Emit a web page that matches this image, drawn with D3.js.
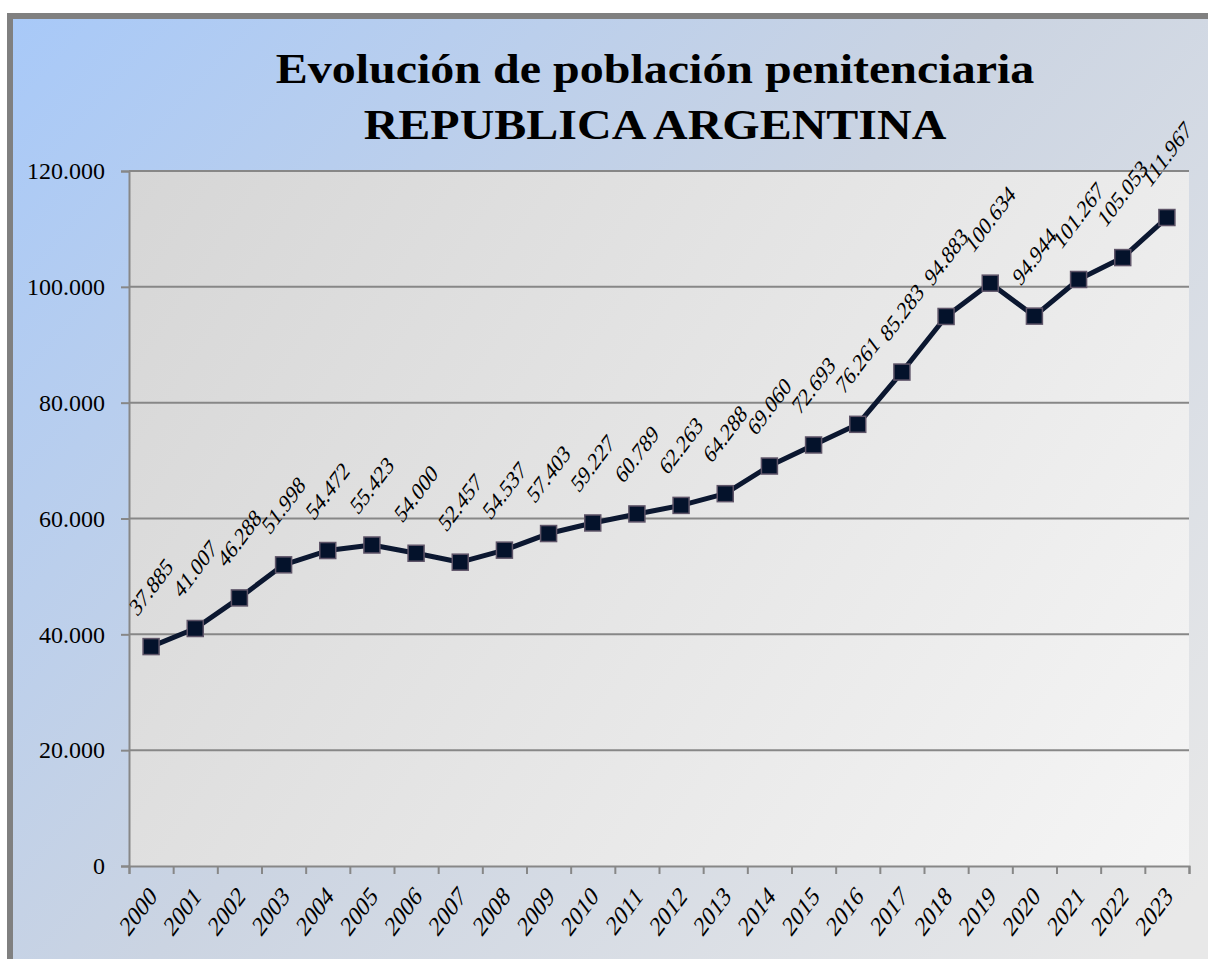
<!DOCTYPE html>
<html>
<head>
<meta charset="utf-8">
<script src="https://cdn.jsdelivr.net/npm/d3@7"></script>
<style>
  html, body { margin: 0; padding: 0; background: #ffffff; }
  svg { display: block; }
  text { font-family: "Liberation Serif", "DejaVu Serif", serif; fill: #000; }
</style>
</head>
<body>
<svg id="chart" width="1208" height="959"></svg>
<script>
// data
var years = ["2000","2001","2002","2003","2004","2005","2006","2007","2008","2009","2010","2011",
             "2012","2013","2014","2015","2016","2017","2018","2019","2020","2021","2022","2023"];
var population = [37885, 41007, 46288, 51998, 54472, 55423, 54000, 52457, 54537, 57403, 59227, 60789,
                  62263, 64288, 69060, 72693, 76261, 85283, 94883, 100634, 94944, 101267, 105053, 111967];
var yTicks = [0, 20000, 40000, 60000, 80000, 100000, 120000];
var titleLines = ["Evolución de población penitenciaria", "REPUBLICA ARGENTINA"];

// layout
var plot = {left: 129, right: 1189, top: 171, bottom: 866};
var stretch = 1.33; // the source picture is stretched vertically; rotated text shows it

var svg = d3.select("#chart");
var defs = svg.append("defs");

// gradients
var bgGrad = defs.append("linearGradient")
  .attr("id", "bgGrad")
  .attr("gradientUnits", "userSpaceOnUse")
  .attr("x1", 13).attr("y1", 19).attr("x2", 1100).attr("y2", 1000);
bgGrad.append("stop").attr("offset", 0).attr("stop-color", "#a8c9f8");
bgGrad.append("stop").attr("offset", 0.5).attr("stop-color", "#cbd4e2");
bgGrad.append("stop").attr("offset", 1).attr("stop-color", "#e8e8e8");

var plotGrad = defs.append("linearGradient")
  .attr("id", "plotGrad")
  .attr("gradientUnits", "userSpaceOnUse")
  .attr("x1", plot.left).attr("y1", plot.top).attr("x2", plot.right).attr("y2", plot.bottom);
plotGrad.append("stop").attr("offset", 0).attr("stop-color", "#d6d6d6");
plotGrad.append("stop").attr("offset", 1).attr("stop-color", "#f5f5f5");

// outer frame (runs off right & bottom edge)
svg.append("rect")
  .attr("x", 10).attr("y", 16)
  .attr("width", 1300).attr("height", 1100)
  .attr("fill", "url(#bgGrad)")
  .attr("stroke", "#808080")
  .attr("stroke-width", 6);

// plot area
svg.append("rect")
  .attr("x", plot.left).attr("y", plot.top)
  .attr("width", plot.right - plot.left).attr("height", plot.bottom - plot.top)
  .attr("fill", "url(#plotGrad)");

// scales
var x = d3.scaleBand()
  .domain(years)
  .range([plot.left, plot.right])
  .padding(0);

var xEdges = d3.scaleLinear()
  .domain([0, years.length])
  .range([plot.left, plot.right]);

var y = d3.scaleLinear()
  .domain([0, 120000])
  .range([plot.bottom, plot.top]);

var locale = d3.formatLocale({decimal: ",", thousands: ".", grouping: [3], currency: ["$", ""]});
var fmt = locale.format(",d");

// gridlines
svg.append("g")
  .attr("class", "grid")
  .selectAll("line")
  .data(yTicks.filter(function(d) { return d > 0; }))
  .enter().append("line")
  .attr("x1", plot.left).attr("x2", plot.right)
  .attr("y1", function(d) { return y(d); })
  .attr("y2", function(d) { return y(d); })
  .attr("stroke", "#878787")
  .attr("stroke-width", 2);

// y axis
var yAxis = d3.axisLeft(y)
  .tickValues(yTicks)
  .tickSize(8)
  .tickPadding(16)
  .tickFormat(fmt);

var gy = svg.append("g")
  .attr("transform", "translate(" + plot.left + ",0)")
  .call(yAxis);
gy.select(".domain").attr("stroke", "#878787").attr("stroke-width", 2);
gy.selectAll(".tick line").attr("stroke", "#878787").attr("stroke-width", 2);
gy.selectAll(".tick text")
  .style("font-family", "'Liberation Serif', serif")
  .style("font-size", "24px")
  .attr("fill", "#000");

// x axis: tick marks at category edges
var xTickAxis = d3.axisBottom(xEdges)
  .tickValues(d3.range(years.length + 1))
  .tickSize(8)
  .tickFormat("");

var gx = svg.append("g")
  .attr("transform", "translate(0," + plot.bottom + ")")
  .call(xTickAxis);
gx.select(".domain").attr("stroke", "#878787").attr("stroke-width", 2);
gx.selectAll(".tick line").attr("stroke", "#878787").attr("stroke-width", 2);

// x axis: labels at category centres
var xLabelAxis = d3.axisBottom(x).tickSize(0).tickPadding(0);
var gxl = svg.append("g")
  .attr("transform", "translate(0," + plot.bottom + ")")
  .call(xLabelAxis);
gxl.select(".domain").remove();
gxl.selectAll(".tick text")
  .style("font-family", "'Liberation Serif', serif")
  .style("font-size", "21px")
  .attr("fill", "#000")
  .attr("text-anchor", "end")
  .attr("dy", null)
  .attr("y", 0)
  .attr("transform", "translate(7,32) scale(1," + stretch + ") rotate(-45)");

// line
var line = d3.line()
  .x(function(d, i) { return x(years[i]) + x.bandwidth() / 2; })
  .y(function(d) { return y(d); });

svg.append("path")
  .datum(population)
  .attr("d", line)
  .attr("fill", "none")
  .attr("stroke", "#0b1730")
  .attr("stroke-width", 5)
  .attr("stroke-linejoin", "round");

// markers
var ms = 16;
svg.append("g")
  .selectAll("rect")
  .data(population)
  .enter().append("rect")
  .attr("x", function(d, i) { return x(years[i]) + x.bandwidth() / 2 - ms / 2; })
  .attr("y", function(d) { return y(d) - ms / 2; })
  .attr("width", ms).attr("height", ms)
  .attr("fill", "#04122b")
  .attr("stroke", "#5e5468")
  .attr("stroke-width", 1.5);

// data labels, rotated, centred above each point
var labels = svg.append("g")
  .selectAll("text")
  .data(population)
  .enter().append("text")
  .style("font-size", "19px")
  .attr("text-anchor", "middle")
  .attr("dominant-baseline", "central")
  .text(function(d) { return fmt(d); });

labels.each(function(d, i) {
  var len = this.getComputedTextLength();
  var half = (len + 13) * Math.SQRT1_2 * stretch / 2;
  var cx = x(years[i]) + x.bandwidth() / 2;
  var cy = y(d) - 29 - half;
  d3.select(this).attr("transform",
    "translate(" + cx + "," + cy + ") scale(1," + stretch + ") rotate(-45)");
});

// title
svg.append("text")
  .attr("transform", "translate(655,83) scale(1,0.9)")
  .attr("text-anchor", "middle")
  .style("font-size", "48px")
  .style("font-weight", "bold")
  .selectAll("tspan")
  .data(titleLines)
  .enter().append("tspan")
  .attr("x", 0)
  .attr("dy", function(d, i) { return i === 0 ? 0 : 62; })
  .text(function(d) { return d; });
</script>
</body>
</html>
